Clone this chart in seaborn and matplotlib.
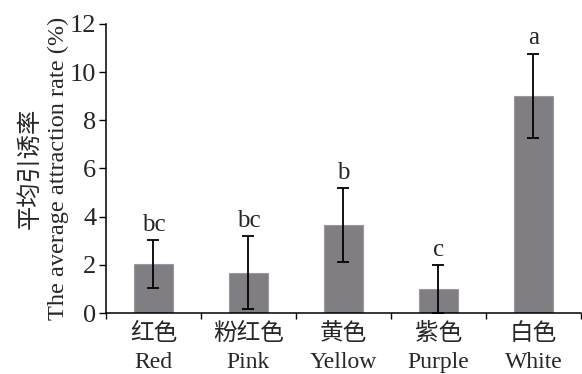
import matplotlib
matplotlib.use("Agg")
import matplotlib.pyplot as plt
import seaborn as sns
import numpy as np
import pandas as pd

categories_cn = ["红色", "粉红色", "黄色", "紫色", "白色"]
categories_en = ["Red", "Pink", "Yellow", "Purple", "White"]
values = [2.03, 1.67, 3.65, 0.98, 9.02]
errors = [1.0, 1.52, 1.55, 1.0, 1.75]
letters = ["bc", "bc", "b", "c", "a"]
yticks = [0, 2, 4, 6, 8, 10, 12]

sns.set_theme(style="ticks")
fam = ["Liberation Serif", "Noto Sans CJK SC"]
plt.rcParams["font.family"] = fam

df = pd.DataFrame({"cat": [f"{c}\n{e}" for c, e in zip(categories_cn, categories_en)],
                   "val": values})

fig = plt.figure(figsize=(5.82, 3.74), dpi=100)
ax = fig.add_axes([0.182, 0.163, 0.816, 0.773])
sns.barplot(data=df, x="cat", y="val", color="#807e83", saturation=1,
            width=0.41, errorbar=None, ax=ax, edgecolor="#9a989c", linewidth=0.8)
x = np.arange(len(values))
lo = [min(e, v) for v, e in zip(values, errors)]
ax.errorbar(x, values, yerr=[lo, errors], fmt="none", ecolor="black",
            elinewidth=1.3, capsize=4, capthick=1.3)
for xi, v, e, t in zip(x, values, errors, letters):
    ax.annotate(t, (xi, v + e), xytext=(0, 3), textcoords="offset points",
                ha="center", va="bottom", fontsize=18, family=fam)

ax.set_xlim(-0.5, 4.5)
ax.set_ylim(0, 12)
ax.set_yticks(yticks)
ax.set_yticklabels([str(t) for t in yticks], fontsize=19)
ax.set_xticks(x)
ax.set_xticklabels(df["cat"], fontsize=17, linespacing=1.45)
ax.set_xticks(np.arange(-0.5, 5, 1), minor=True)
ax.tick_params(axis="x", which="major", length=0, pad=7)
ax.tick_params(axis="x", which="minor", length=4, width=1, direction="out", color="black")
ax.tick_params(axis="y", length=5, width=1, direction="out", color="black", pad=2)
ax.set_xlabel("")
ax.set_ylabel("平均引诱率\nThe average attraction rate (%)", fontsize=17.5, linespacing=1.35)
ax.yaxis.set_label_coords(-0.078, 0.5)
for s in ["top", "right"]:
    ax.spines[s].set_visible(False)
for s in ["left", "bottom"]:
    ax.spines[s].set_color("black")
    ax.spines[s].set_linewidth(1.1)
ax.set_facecolor("white")
fig.patch.set_facecolor("white")
fig.savefig("out.png", dpi=100, facecolor="white")
